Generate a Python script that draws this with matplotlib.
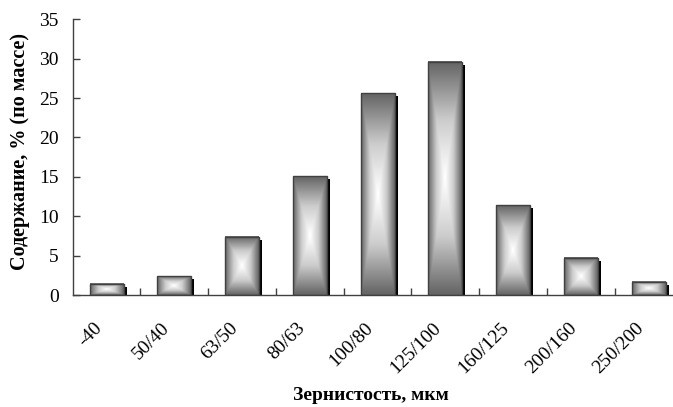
import numpy as np
import matplotlib.pyplot as plt
from matplotlib.transforms import ScaledTranslation
from matplotlib.colors import LinearSegmentedColormap

plt.rcParams['font.family'] = ['Liberation Serif', 'DejaVu Serif']

# grain size fractions and their content
fractions = ['-40', '50/40', '63/50', '80/63', '100/80', '125/100', '160/125', '200/160', '250/200']
content = [1.4, 2.4, 7.4, 15.1, 25.6, 29.6, 11.4, 4.7, 1.7]

W, H = 673, 407
fig = plt.figure(figsize=(W / 100, H / 100), dpi=100)
# plot area runs slightly past the right edge of the image
ax = fig.add_axes([72.7 / W, 112 / H, 609.75 / W, 275.7 / H])

cmap = LinearSegmentedColormap.from_list('box', ['#ffffff', '#cccccc', '#666666'])
n = 64
u = np.linspace(-1, 1, n)
gx, gy = np.meshgrid(u, u)
grad = np.maximum(np.abs(gx), np.abs(gy))

bw = 0.5
shadow = ax.transData + ScaledTranslation(0.03, -0.03, fig.dpi_scale_trans)
x = np.arange(len(fractions))
for xi, v in zip(x, content):
    ax.bar(xi, v, width=bw, color='black', transform=shadow, zorder=1)
    ax.imshow(grad, cmap=cmap, extent=(xi - bw / 2, xi + bw / 2, 0, v),
              aspect='auto', interpolation='bilinear', zorder=2)
ax.bar(x, content, width=bw, facecolor='none', edgecolor='#404040', linewidth=1.0, zorder=3)

ax.set_xlim(-0.5, len(fractions) - 0.5)
ax.set_ylim(0, 35)
ax.set_yticks(np.arange(0, 36, 5))
ax.set_xticks(x)
ax.set_xticklabels(fractions, rotation=45, ha='right', va='center', rotation_mode='anchor')
ax.set_xticks(np.arange(0.5, len(fractions), 1), minor=True)
ax.tick_params(axis='x', which='major', length=0, pad=22, labelsize=14)
ax.tick_params(axis='x', which='minor', direction='in', length=5, width=1, color='#404040')
ax.tick_params(axis='y', direction='in', length=5, width=1, color='#404040', labelsize=14, pad=10)

# nudge the slanted labels a little to the left
shift = ScaledTranslation(-0.07, 0, fig.dpi_scale_trans)
for lab in ax.get_xticklabels():
    lab.set_transform(lab.get_transform() + shift)

for s in ['top', 'right']:
    ax.spines[s].set_visible(False)
for s in ['left', 'bottom']:
    ax.spines[s].set_color('#404040')
    ax.spines[s].set_linewidth(1.0)

fig.text(371 / W, 1 - 396 / H, 'Зернистость, мкм', ha='center', va='center',
         fontsize=14, fontweight='bold')
fig.text(20 / W, 1 - 152 / H, 'Содержание, % (по массе)', ha='center', va='center',
         rotation=90, fontsize=14.5, fontweight='bold')

fig.savefig('out.png', dpi=100)
